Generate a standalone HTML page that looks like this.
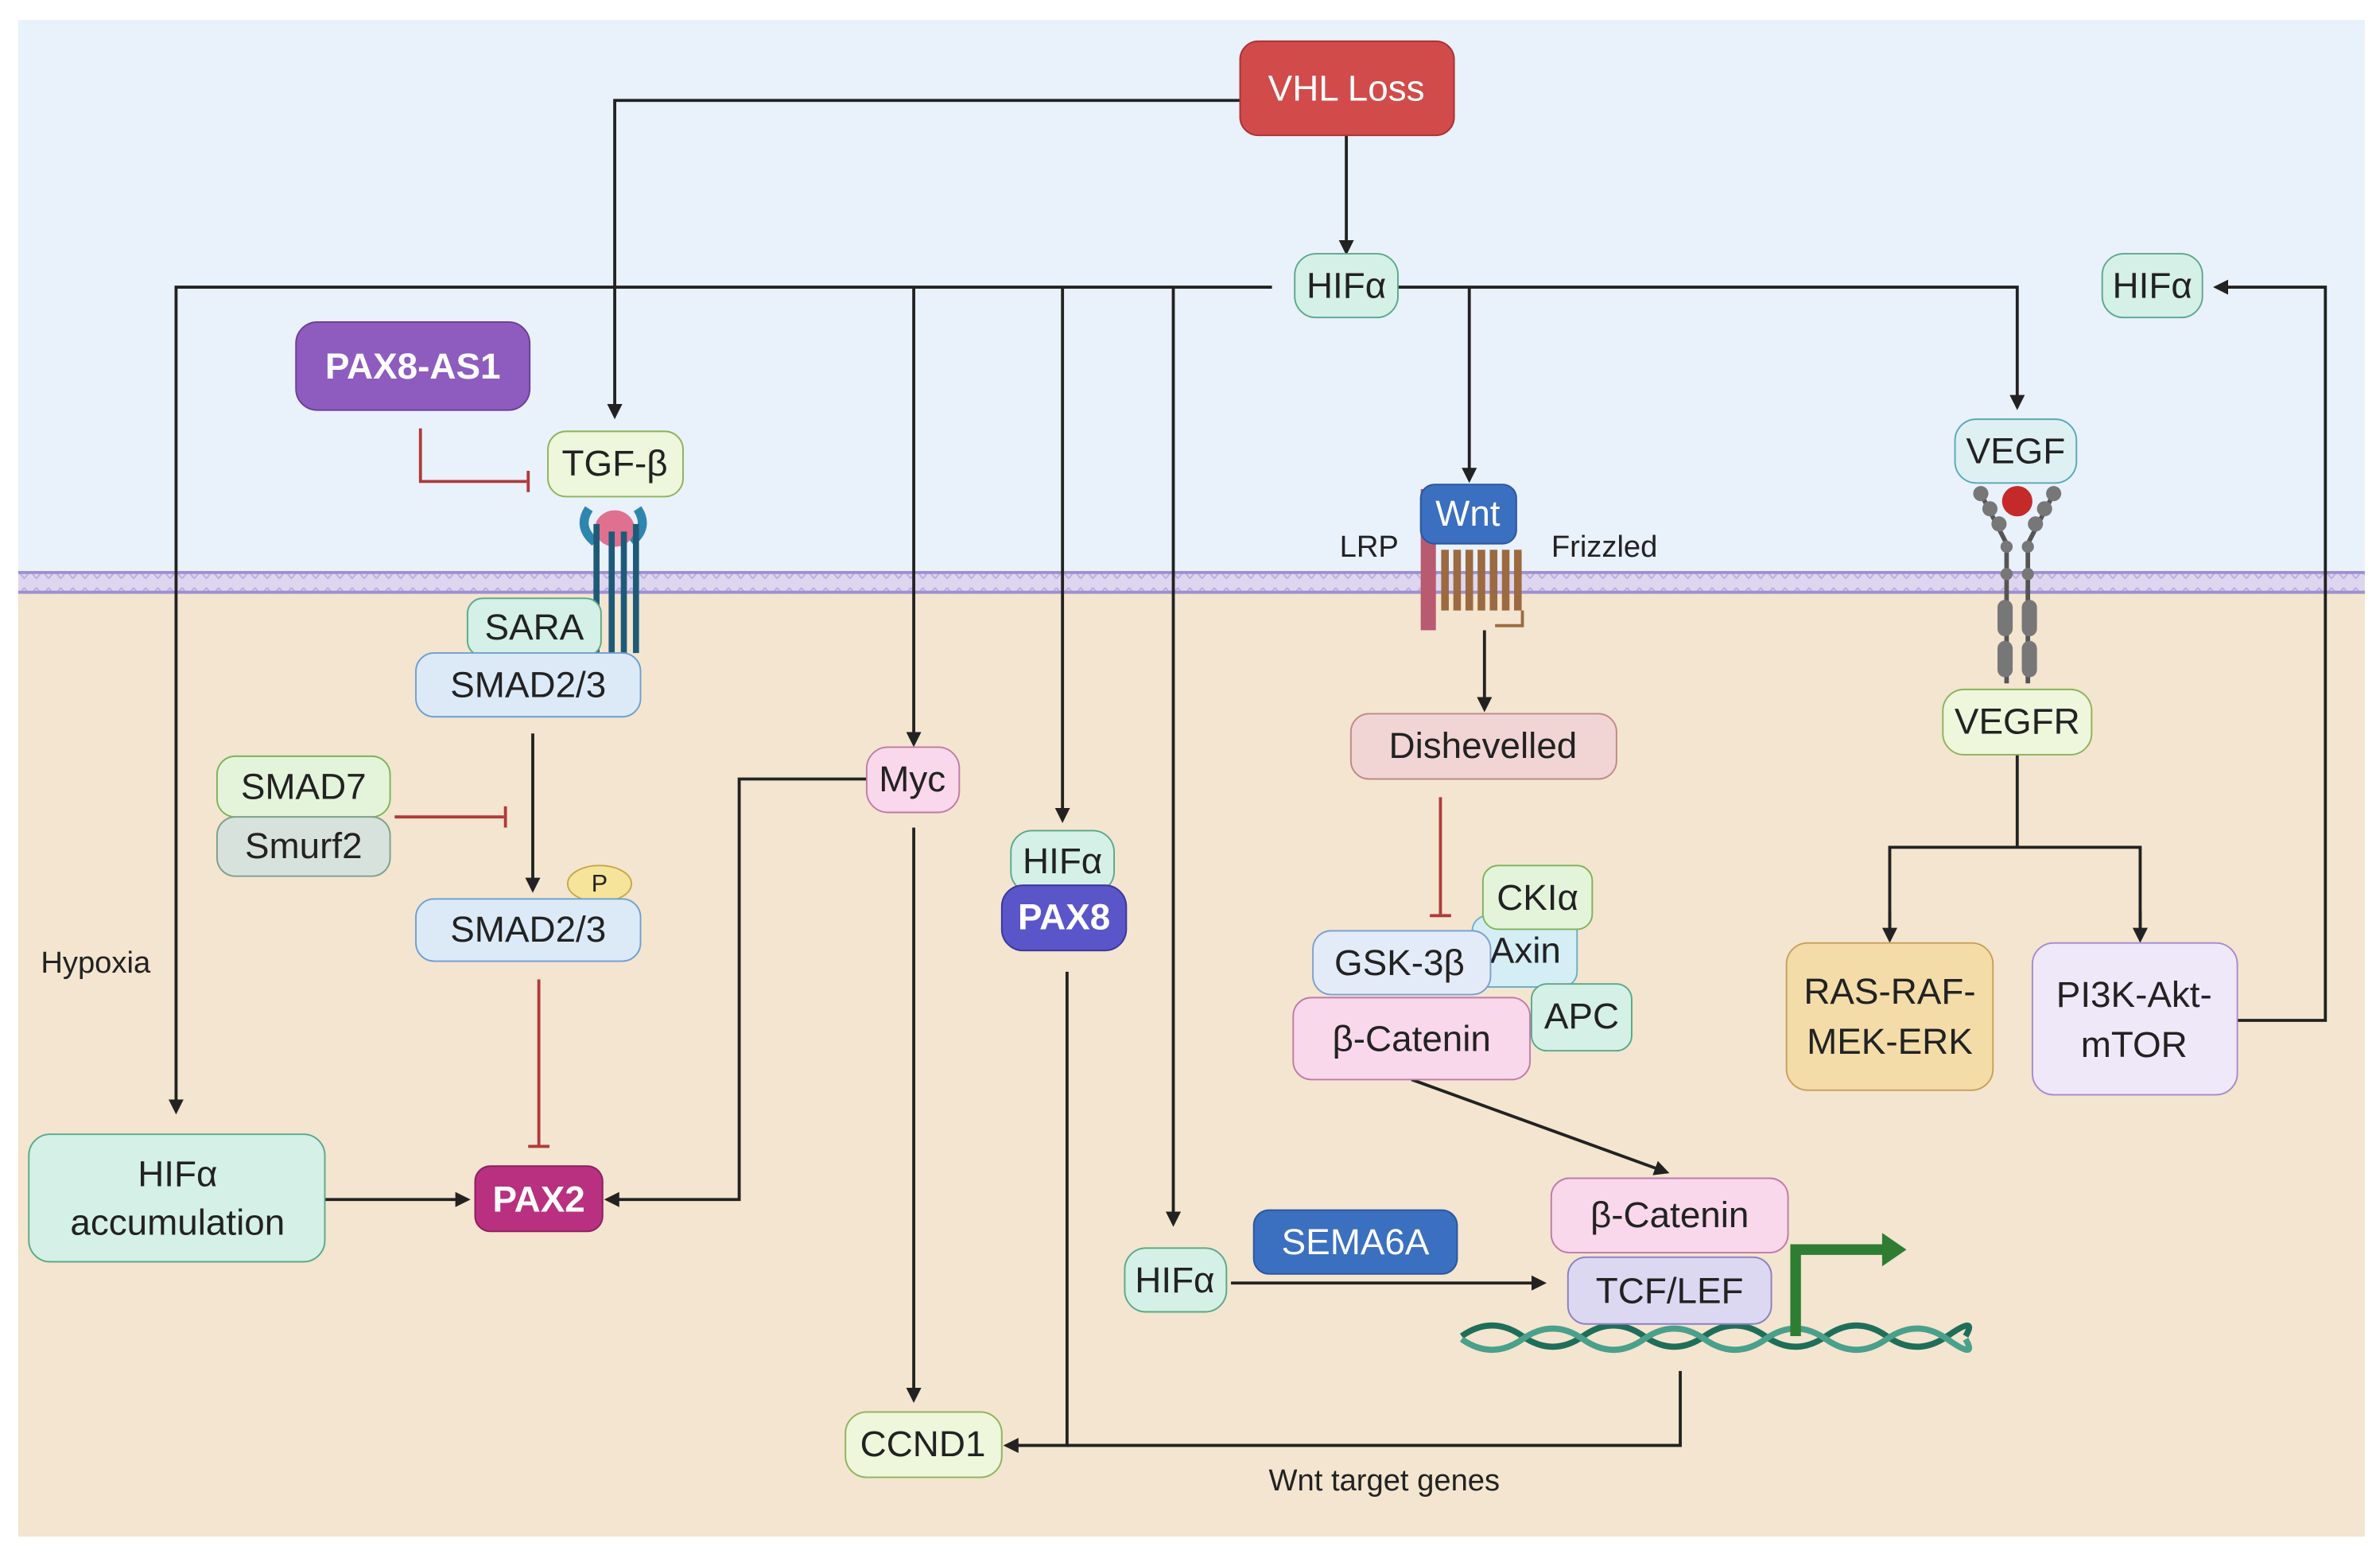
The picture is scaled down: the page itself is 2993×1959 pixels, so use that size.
<!DOCTYPE html>
<html><head><meta charset="utf-8"><style>html,body{margin:0;padding:0;background:#fff}svg{display:block}text{font-family:"Liberation Sans",sans-serif}</style></head>
<body>
<svg width="2993" height="1959" viewBox="0 0 1568 1026" xmlns="http://www.w3.org/2000/svg">
<defs>
<marker id="a" markerWidth="10" markerHeight="10" refX="8" refY="5" orient="auto" markerUnits="userSpaceOnUse"><path d="M0,0 L10,5 L0,10 z" fill="#222"/></marker>
<pattern id="mem" width="8" height="16" patternUnits="userSpaceOnUse"><rect width="8" height="16" fill="#ddd6ee"/><path d="M0,3 L8,13 M8,3 L0,13" stroke="#b9aee0" stroke-width="1"/></pattern>
</defs>
<rect x="0" y="0" width="1568" height="1026" fill="#fff"/>
<rect x="12" y="13" width="1546" height="364" fill="#e9f1fb"/>
<rect x="12" y="391" width="1546" height="621" fill="#f3e5cf"/>
<rect x="12" y="377" width="1546" height="14" fill="url(#mem)"/>
<line x1="12" y1="377" x2="1558" y2="377" stroke="#9d8fd0" stroke-width="2"/>
<line x1="12" y1="390" x2="1558" y2="390" stroke="#9d8fd0" stroke-width="2"/>

<g fill="none" stroke="#222" stroke-width="2">
<polyline points="817,66 405,66 405,274" marker-end="url(#a)"/>
<line x1="887" y1="89" x2="887" y2="166" marker-end="url(#a)"/>
<polyline points="838,189 116,189 116,732" marker-end="url(#a)"/>
<line x1="602" y1="189" x2="602" y2="490" marker-end="url(#a)"/>
<line x1="700" y1="189" x2="700" y2="540" marker-end="url(#a)"/>
<line x1="773" y1="189" x2="773" y2="806" marker-end="url(#a)"/>
<polyline points="921,189 1329,189 1329,268" marker-end="url(#a)"/>
<line x1="968" y1="189" x2="968" y2="316" marker-end="url(#a)"/>
<line x1="978" y1="415" x2="978" y2="467" marker-end="url(#a)"/>
<line x1="1329" y1="497" x2="1329" y2="558"/>
<polyline points="1245,618 1245,558 1410,558 1410,618" />
<line x1="1245" y1="600" x2="1245" y2="619" marker-end="url(#a)"/>
<line x1="1410" y1="600" x2="1410" y2="619" marker-end="url(#a)"/>
<polyline points="1474,672 1532,672 1532,189 1460,189" marker-end="url(#a)"/>
<line x1="351" y1="483" x2="351" y2="586" marker-end="url(#a)"/>
<line x1="214" y1="790" x2="308" y2="790" marker-end="url(#a)"/>
<polyline points="571,513 487,513 487,790 400,790" marker-end="url(#a)"/>
<line x1="602" y1="545" x2="602" y2="922" marker-end="url(#a)"/>
<polyline points="703,640 703,952 663,952" marker-end="url(#a)"/>
<polyline points="1107,903 1107,952 703,952"/>
<line x1="930" y1="711" x2="1098" y2="772" marker-end="url(#a)"/>
<line x1="811" y1="845" x2="1017" y2="845" marker-end="url(#a)"/>
</g>
<g fill="none" stroke="#b03a3a" stroke-width="2">
<polyline points="277,282 277,317 347,317"/><line x1="348" y1="310" x2="348" y2="324"/>
<line x1="260" y1="538" x2="332" y2="538"/><line x1="333" y1="531" x2="333" y2="545"/>
<line x1="355" y1="645" x2="355" y2="754"/><line x1="348" y1="755" x2="362" y2="755"/>
<line x1="949" y1="525" x2="949" y2="602"/><line x1="942" y1="603" x2="956" y2="603"/>
</g>

<!-- TGF receptor -->
<g>
<path d="M388,335 q-8,12 4,22 M420,335 q8,12 -4,22" stroke="#2e86b0" stroke-width="6" fill="none"/>
<ellipse cx="405" cy="348" rx="13" ry="12" fill="#e07090"/>
<g stroke="#1e5a78" stroke-width="4"><line x1="393" y1="345" x2="393" y2="430"/><line x1="403" y1="350" x2="403" y2="430"/><line x1="411" y1="350" x2="411" y2="430"/><line x1="419" y1="345" x2="419" y2="430"/></g>
</g>
<!-- Wnt receptor -->
<rect x="936" y="322" width="10" height="93" fill="#b85a70"/>
<g stroke="#9c6a40" stroke-width="5" fill="none"><path d="M952,362v40M960,362v40M968,362v40M976,362v40M984,362v40M992,362v40M1000,362v40"/></g>
<path d="M985,412 h18 v-10" stroke="#9c6a40" stroke-width="2" fill="none"/>
<!-- VEGF receptor -->
<g stroke="#555" stroke-width="3" fill="none"><path d="M1305,325 L1322,358 L1322,450 M1353,325 L1336,358 L1336,450"/></g>
<g fill="#777"><rect x="1316" y="395" width="10" height="24" rx="5"/><rect x="1316" y="422" width="10" height="24" rx="5"/><rect x="1332" y="395" width="10" height="24" rx="5"/><rect x="1332" y="422" width="10" height="24" rx="5"/>
<circle cx="1305" cy="325" r="5"/><circle cx="1311" cy="335" r="5"/><circle cx="1317" cy="345" r="5"/><circle cx="1353" cy="325" r="5"/><circle cx="1347" cy="335" r="5"/><circle cx="1341" cy="345" r="5"/><circle cx="1322" cy="360" r="4"/><circle cx="1336" cy="360" r="4"/><circle cx="1322" cy="378" r="4"/><circle cx="1336" cy="378" r="4"/></g>
<circle cx="1329" cy="330" r="10" fill="#c42a2a"/>

<!-- DNA -->
<g fill="none" stroke-width="4"><path d="M963,880 q20,-14 40,0 t40,0 t40,0 t40,0 t40,0 t40,0 t40,0 t40,0 t12,0" stroke="#1f6e5a"/><path d="M963,882 q20,14 40,0 t40,0 t40,0 t40,0 t40,0 t40,0 t40,0 t40,0 t12,0" stroke="#4aa08a"/></g>
<polyline points="1183,880 1183,823 1244,823" fill="none" stroke="#2e7d32" stroke-width="7"/>
<path d="M1240,812 L1256,823 L1240,834 z" fill="#2e7d32"/>

<g font-size="24" text-anchor="middle" dominant-baseline="central" fill="#222">
<rect x="817" y="27" width="141" height="62" rx="12" fill="#d14b4b" stroke="#a83333"/><text x="887" y="58" fill="#fff">VHL Loss</text>
<rect x="853" y="167" width="68" height="42" rx="14" fill="#d5f0e6" stroke="#5aa88a"/><text x="887" y="188">HIFα</text>
<rect x="1385" y="167" width="66" height="42" rx="14" fill="#d5f0e6" stroke="#5aa88a"/><text x="1418" y="188">HIFα</text>
<rect x="195" y="212" width="154" height="58" rx="14" fill="#8e5cbf" stroke="#6a3e98"/><text x="272" y="241" fill="#fff" font-weight="bold">PAX8-AS1</text>
<rect x="361" y="284" width="89" height="43" rx="12" fill="#eef6dc" stroke="#8cb35a"/><text x="405" y="305">TGF-β</text>
<rect x="308" y="394" width="88" height="38" rx="10" fill="#d5f0e6" stroke="#5aa88a"/><text x="352" y="413">SARA</text>
<rect x="274" y="430" width="148" height="42" rx="12" fill="#dceaf8" stroke="#6f9fd0"/><text x="348" y="451">SMAD2/3</text>
<rect x="143" y="498" width="114" height="40" rx="12" fill="#e4f4da" stroke="#7fb35a"/><text x="200" y="518">SMAD7</text>
<rect x="143" y="538" width="114" height="39" rx="12" fill="#d8e2dc" stroke="#7fa08a"/><text x="200" y="557">Smurf2</text>
<ellipse cx="395" cy="582" rx="21" ry="12" fill="#f5e49a" stroke="#c8a84a"/><text x="395" y="582" font-size="16">P</text>
<rect x="274" y="592" width="148" height="41" rx="12" fill="#dceaf8" stroke="#6f9fd0"/><text x="348" y="612">SMAD2/3</text>
<rect x="19" y="747" width="195" height="84" rx="14" fill="#d5f0e6" stroke="#5aa88a"/><text x="117" y="773">HIFα</text><text x="117" y="805">accumulation</text>
<text x="63" y="634" font-size="20">Hypoxia</text>
<rect x="313" y="768" width="84" height="43" rx="10" fill="#b8307f" stroke="#8a2060"/><text x="355" y="790" fill="#fff" font-weight="bold">PAX2</text>
<rect x="571" y="492" width="61" height="43" rx="14" fill="#f8d8ea" stroke="#c07aa8"/><text x="601" y="513">Myc</text>
<rect x="666" y="547" width="68" height="41" rx="14" fill="#d5f0e6" stroke="#5aa88a"/><text x="700" y="567">HIFα</text>
<rect x="660" y="583" width="82" height="43" rx="14" fill="#5a55c8" stroke="#3a3698"/><text x="701" y="604" fill="#fff" font-weight="bold">PAX8</text>
<rect x="557" y="930" width="103" height="43" rx="14" fill="#eef6dc" stroke="#8cb35a"/><text x="608" y="951">CCND1</text>
<rect x="936" y="319" width="63" height="39" rx="9" fill="#3b6fc0" stroke="#2a55a0"/><text x="967" y="338" fill="#fff">Wnt</text>
<text x="902" y="360" font-size="20">LRP</text><text x="1057" y="360" font-size="20">Frizzled</text>
<rect x="890" y="470" width="175" height="43" rx="12" fill="#f1d4d4" stroke="#c08888"/><text x="977" y="491">Dishevelled</text>
<rect x="970" y="603" width="69" height="47" rx="10" fill="#d5eef5" stroke="#6ab0c8"/><text x="1005" y="626">Axin</text>
<rect x="977" y="570" width="72" height="42" rx="10" fill="#e4f4da" stroke="#7fb35a"/><text x="1013" y="591">CKIα</text>
<rect x="865" y="613" width="117" height="42" rx="12" fill="#e4ebf8" stroke="#7f9fd0"/><text x="922" y="634">GSK-3β</text>
<rect x="1009" y="648" width="66" height="44" rx="10" fill="#d5f0e6" stroke="#5aa88a"/><text x="1042" y="669">APC</text>
<rect x="852" y="657" width="156" height="54" rx="12" fill="#f8d8ea" stroke="#c07aa8"/><text x="930" y="684">β-Catenin</text>
<rect x="1288" y="276" width="80" height="42" rx="14" fill="#dff0f3" stroke="#5aa8b8"/><text x="1328" y="297">VEGF</text>
<rect x="1280" y="454" width="98" height="43" rx="14" fill="#eef6dc" stroke="#8cb35a"/><text x="1329" y="475">VEGFR</text>
<rect x="1177" y="621" width="136" height="97" rx="14" fill="#f3dca8" stroke="#c8a05a"/><text x="1245" y="653">RAS-RAF-</text><text x="1245" y="686">MEK-ERK</text>
<rect x="1339" y="621" width="135" height="100" rx="14" fill="#efe8f8" stroke="#a58ad0"/><text x="1406" y="655">PI3K-Akt-</text><text x="1406" y="688">mTOR</text>
<rect x="826" y="797" width="134" height="42" rx="10" fill="#3b6fc0" stroke="#2a55a0"/><text x="893" y="818" fill="#fff">SEMA6A</text>
<rect x="741" y="822" width="67" height="42" rx="14" fill="#d5f0e6" stroke="#5aa88a"/><text x="774" y="843">HIFα</text>
<rect x="1022" y="776" width="156" height="49" rx="12" fill="#f8d8ea" stroke="#c07aa8"/><text x="1100" y="800">β-Catenin</text>
<rect x="1033" y="828" width="134" height="44" rx="12" fill="#dcd8f2" stroke="#8a80c0"/><text x="1100" y="850">TCF/LEF</text>
<text x="912" y="975" font-size="20">Wnt target genes</text>
</g>
</svg>
</body></html>
